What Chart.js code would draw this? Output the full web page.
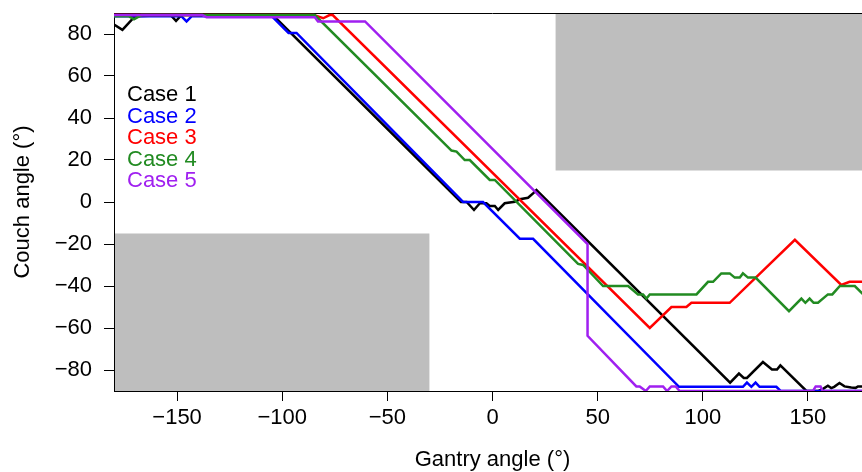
<!DOCTYPE html>
<html lang="en">
<head>
<meta charset="utf-8">
<title>Couch angle vs gantry angle</title>
<script src="https://cdn.jsdelivr.net/npm/chart.js@4.4.1/dist/chart.umd.min.js"></script>
<style>
  html, body { margin: 0; padding: 0; background: #fff; }
  /* el gráfico original está recortado a la derecha: el eje llega a 180 fuera de la imagen */
  #marco { width: 862px; height: 472px; overflow: hidden; }
</style>
</head>
<body>
<div id="marco"><canvas id="grafico" width="871" height="472"></canvas></div>
<script>
  "use strict";

  // Datos (ángulo de gantry -> ángulo de camilla)
  const etiquetas = ["Case 1", "Case 2", "Case 3", "Case 4", "Case 5"];

  const caso1X = [-180, -176, -170, -153, -150.5, -148, -104.5, -15, -12.3, -8.8, -6, -2.9, -1.3, 1.1, 2.7, 5.8, 10.6, 13, 16.9, 19.3, 20.9, 113, 117.2, 119.5, 121, 128.6, 132.9, 135.3, 136.9, 149.3, 155, 157.2, 159.5, 161.1, 162.5, 165, 167.4, 170.6, 172.7, 173.8, 180];
  const caso1Y = [84.5, 82, 88.5, 89, 86.2, 89, 89, 0, 0, -3.8, -0.6, -0.6, -1.9, -1.9, -3.8, -0.6, 0.1, 1.3, 2, 4.1, 5.7, -86, -81.7, -83.8, -83.8, -76.2, -79.8, -79.8, -77.8, -90, -90, -89, -87.5, -88.6, -88, -86.2, -87.8, -88.3, -88.5, -87.8, -87.8];

  const caso2X = [-180, -148, -145.5, -143, -105, -97, -93.2, -14, -4.5, 13, 19.3, 88.7, 119.1, 121, 123.1, 125.1, 127, 135, 137, 180];
  const caso2Y = [88.5, 88.5, 86, 88.5, 88.5, 80.5, 80.5, 0, 0, -17.5, -17.5, -88, -88, -86, -88, -86, -88, -88, -90, -90];

  const caso3X = [-180, -85, -80.5, -77.5, -76, 74.8, 85.1, 92.2, 94.6, 112.8, 143.8, 165.9, 169.8, 180];
  const caso3Y = [89, 89, 87.5, 89, 89, -60, -50, -50, -48, -48, -18, -39.5, -38, -38];

  const caso4X = [-180, -173, -170.5, -167, -84.5, -19.5, -17.1, -13.2, -10.8, -1.3, 1.1, 40.7, 43.1, 52.6, 64.5, 69.2, 71.6, 73.2, 74.8, 97, 102.5, 104.9, 108.8, 112.8, 115.2, 117.6, 119.1, 121.5, 125.1, 141, 146.9, 148.8, 150.8, 152.7, 154.8, 159.5, 161.6, 165.2, 172.3, 177];
  const caso4Y = [88.5, 88.5, 87, 89, 89, 24.5, 24, 20, 20, 10.5, 10.5, -29.5, -30, -40, -40, -44, -44, -46, -44, -44, -38, -38, -34, -34, -36, -36, -34, -36, -36, -52, -46, -48, -46, -48, -48, -44, -44, -40, -40, -44.7];

  const caso5X = [-180, -138, -136, -84.5, -83, -60.6, 45.2, 45.2, 68.4, 70, 72.9, 74.8, 81.1, 83, 85.1, 87.1, 89, 152.4, 153.7, 156, 157, 180];
  const caso5Y = [89, 89, 88, 88, 86, 86, -20, -63.7, -87.8, -87.8, -90, -87.8, -87.8, -90, -87.8, -87.8, -90, -90, -87.8, -87.8, -90, -90];

  // Zonas prohibidas (gris): [xmin, xmax] y [ymin, ymax]
  const zonasX = [[-180, -30], [30, 180]];
  const zonasY = [[-90, -15], [15, 90]];

  const ticksX = [-150, -100, -50, 0, 50, 100, 150];
  const ticksY = [-80, -60, -40, -20, 0, 20, 40, 60, 80];

  document.addEventListener("DOMContentLoaded", () => {
    const colores = ["#000000", "#0000ff", "#ff0000", "#228b22", "#a020f0"];
    const xs = [caso1X, caso2X, caso3X, caso4X, caso5X];
    const ys = [caso1Y, caso2Y, caso3Y, caso4Y, caso5Y];
    const fuente = { family: "'Liberation Sans', Arial, Helvetica, sans-serif", size: 22 };
    const menos = (v) => String(v).replace("-", "\u2212");

    // Rectángulos grises, borde superior y leyenda en texto
    const pluginZonas = {
      id: "zonas",
      beforeDraw(chart) {
        const { ctx, chartArea, scales } = chart;
        ctx.save();
        ctx.fillStyle = "#bebebe";
        zonasX.forEach((zx, i) => {
          const x0 = scales.x.getPixelForValue(zx[0]);
          const x1 = scales.x.getPixelForValue(zx[1]);
          const y0 = scales.y.getPixelForValue(zonasY[i][0]);
          const y1 = scales.y.getPixelForValue(zonasY[i][1]);
          ctx.fillRect(x0, y1, x1 - x0, y0 - y1);
        });
        ctx.strokeStyle = "#000";
        ctx.lineWidth = 1;
        ctx.beginPath();
        ctx.moveTo(chartArea.left, Math.round(chartArea.top) + 0.5);
        ctx.lineTo(chartArea.right, Math.round(chartArea.top) + 0.5);
        ctx.stroke();
        ctx.restore();
      },
      afterDraw(chart) {
        const { ctx, chartArea } = chart;
        ctx.save();
        ctx.font = "22px " + fuente.family;
        ctx.textAlign = "left";
        ctx.textBaseline = "alphabetic";
        etiquetas.forEach((t, i) => {
          ctx.fillStyle = colores[i];
          ctx.fillText(t, chartArea.left + 13, chartArea.top + 88 + i * 21.5);
        });
        ctx.restore();
      },
    };

    const datasets = etiquetas.map((label, i) => ({
      label: label,
      data: xs[i].map((x, k) => ({ x: x, y: ys[i][k] })),
      borderColor: colores[i],
      borderWidth: 2.5,
      pointRadius: 0,
      tension: 0,
      fill: false,
      clip: 0,
      order: etiquetas.length - 1 - i, // Case 5 queda encima
    }));

    new Chart(document.getElementById("grafico").getContext("2d"), {
      type: "line",
      data: { datasets: datasets },
      options: {
        responsive: false,
        animation: false,
        events: [],
        layout: { autoPadding: false, padding: { top: 13, right: 0, bottom: 0, left: 0 } },
        plugins: { legend: { display: false }, tooltip: { enabled: false } },
        scales: {
          x: {
            type: "linear",
            min: -180,
            max: 180,
            afterBuildTicks: (s) => { s.ticks = ticksX.map((v) => ({ value: v })); },
            afterFit: (s) => { s.height = 81; s.paddingLeft = 0; s.paddingRight = 0; },
            grid: { display: true, drawOnChartArea: false, drawTicks: true, tickLength: 10, color: "#000", tickColor: "#000" },
            border: { display: true, color: "#000", width: 1 },
            ticks: { color: "#000", font: fuente, padding: 4, maxRotation: 0, autoSkip: false, callback: menos },
            title: { display: true, text: "Gantry angle (°)", color: "#000", font: fuente, padding: { top: 0, bottom: -1 } },
          },
          y: {
            type: "linear",
            min: -90,
            max: 90,
            afterBuildTicks: (s) => { s.ticks = ticksY.map((v) => ({ value: v })); },
            afterFit: (s) => { s.width = 114; s.paddingTop = 0; s.paddingBottom = 0; },
            grid: { display: true, drawOnChartArea: false, drawTicks: true, tickLength: 10, color: "#000", tickColor: "#000" },
            border: { display: true, color: "#000", width: 1 },
            ticks: { color: "#000", font: fuente, padding: 12, autoSkip: false, callback: menos },
            title: { display: true, text: "Couch angle (°)", color: "#000", font: fuente, padding: { top: 10, bottom: 0 } },
          },
        },
      },
      plugins: [pluginZonas],
    });
  });
</script>
</body>
</html>
